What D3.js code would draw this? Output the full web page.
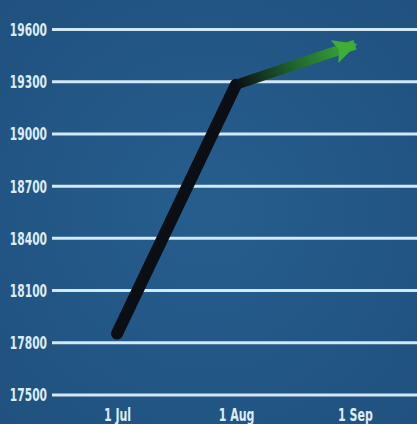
<!DOCTYPE html>
<html>
<head>
<meta charset="utf-8">
<script src="https://cdn.jsdelivr.net/npm/d3@7"></script>
<style>
  html, body { margin: 0; padding: 0; background: #235786; }
  svg { display: block; }
  .lbl { font-family: "Liberation Sans Narrow", "DejaVu Sans Condensed", sans-serif; font-weight: bold; fill: #dcecf7; }
</style>
</head>
<body>
<svg id="chart"></svg>
<script>
// data
const dates = ["2023-07-01", "2023-08-01", "2023-09-01"];
const dateLabels = ["1 Jul", "1 Aug", "1 Sep"];
const values = [17850, 19280, 19510];
const yTicks = [17500, 17800, 18100, 18400, 18700, 19000, 19300, 19600];

const width = 417, height = 424;
const parse = d3.timeParse("%Y-%m-%d");
const points = dates.map((d, i) => ({ date: parse(d), value: values[i], label: dateLabels[i] }));

const svg = d3.select("#chart").attr("width", width).attr("height", height);
const defs = svg.append("defs");

const bg = defs.append("radialGradient").attr("id", "bg")
  .attr("cx", "50%").attr("cy", "50%").attr("r", "75%");
bg.append("stop").attr("offset", "0%").attr("stop-color", "#255e8d");
bg.append("stop").attr("offset", "100%").attr("stop-color", "#20507e");

svg.append("rect").attr("width", width).attr("height", height).attr("fill", "url(#bg)");

const x = d3.scaleTime()
  .domain([points[0].date, points[2].date])
  .range([117, 355]);

const y = d3.scaleLinear()
  .domain([17500, 19600])
  .range([394.5, 29]);

// squeeze text to look like the narrow face in the picture
function squeeze(sel, k) {
  sel.each(function () {
    const w = this.getComputedTextLength();
    d3.select(this).attr("textLength", w * k).attr("lengthAdjust", "spacingAndGlyphs");
  });
}

// gridlines + labels
const yAxis = d3.axisLeft(y)
  .tickValues(yTicks)
  .tickFormat(d3.format("d"))
  .tickSize(-(width - 52))
  .tickPadding(5);

const gy = svg.append("g")
  .attr("transform", "translate(52,0)")
  .call(yAxis);
gy.select(".domain").remove();
gy.selectAll(".tick line")
  .attr("stroke", "#d2e8f7")
  .attr("stroke-width", 3);
gy.selectAll(".tick text")
  .attr("class", "lbl")
  .attr("font-size", 18)
  .attr("dy", "0.36em")
  .call(squeeze, 0.66);

const xAxis = d3.axisBottom(x)
  .tickValues(points.map(p => p.date))
  .tickFormat((d, i) => dateLabels[i])
  .tickSize(0)
  .tickPadding(17);

const gx = svg.append("g")
  .attr("transform", "translate(0,404)")
  .call(xAxis);
gx.select(".domain").remove();
gx.selectAll(".tick text")
  .attr("class", "lbl")
  .attr("font-size", 18)
  .attr("dy", "0")
  .call(squeeze, 0.68);

// first segment: thick black
const line = d3.line().x(d => x(d.date)).y(d => y(d.value));

svg.append("path")
  .datum(points.slice(0, 2))
  .attr("d", line)
  .attr("fill", "none")
  .attr("stroke", "#0b0f14")
  .attr("stroke-width", 12)
  .attr("stroke-linecap", "round")
  .attr("stroke-linejoin", "round");

// second segment: black to green with arrow head
const p1 = points[1], p2 = points[2];
const grad = defs.append("linearGradient").attr("id", "seg2")
  .attr("gradientUnits", "userSpaceOnUse")
  .attr("x1", x(p1.date)).attr("y1", y(p1.value))
  .attr("x2", x(p2.date)).attr("y2", y(p2.value));
grad.append("stop").attr("offset", "0%").attr("stop-color", "#0b0f14");
grad.append("stop").attr("offset", "45%").attr("stop-color", "#1d5f2c");
grad.append("stop").attr("offset", "100%").attr("stop-color", "#3fae36");

defs.append("marker").attr("id", "arrow")
  .attr("viewBox", "0 0 10 10")
  .attr("refX", 9).attr("refY", 5)
  .attr("markerWidth", 2.4).attr("markerHeight", 2.4)
  .attr("markerUnits", "strokeWidth")
  .attr("orient", "auto")
  .append("path")
  .attr("d", "M0,0 L10,5 L0,10 L2,5 Z")
  .attr("fill", "#3fae36");

svg.append("path")
  .datum([p1, p2])
  .attr("d", line)
  .attr("fill", "none")
  .attr("stroke", "url(#seg2)")
  .attr("stroke-width", 10)
  .attr("marker-end", "url(#arrow)");
</script>
</body>
</html>
